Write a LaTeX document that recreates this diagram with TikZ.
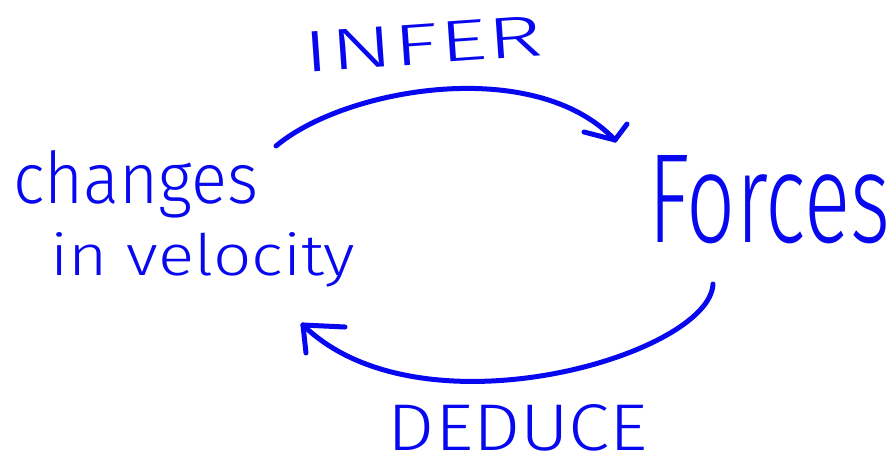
\documentclass[tikz,border=0pt]{standalone}
\usepackage{fontspec}
\setmainfont{Fira Sans}[UprightFont=* Light]
\usepackage{graphicx}
\definecolor{ink}{RGB}{8,8,240}
\begin{document}
\begin{tikzpicture}[x=0.5pt,y=-0.5pt, line cap=round, line join=round,
  pen/.style={draw=ink, line width=2.5pt},
  lbl/.style={inner sep=0pt, anchor=base west, text=ink}]
\useasboundingbox (0,0) rectangle (896,457);
% labels
\node[lbl, anchor=center, rotate=4] (infer) at (423,44) {\resizebox{120pt}{20pt}{INFER}};
\node[lbl, anchor=center] (deduce) at (518,428) {\resizebox{130pt}{23pt}{DEDUCE}};
\node[lbl] (forces) at (648,242) {\resizebox{121pt}{43.5pt}{Forces}};
\node[lbl] (changes) at (13,203) {\resizebox{122.5pt}{26.5pt}{changes}};
\node[lbl] (velocity) at (50,275) {\resizebox{152.5pt}{21.5pt}{in velocity}};
% top arrow
\coordinate (tA) at (276,146);
\coordinate (tB) at (615,140);
\draw[pen] (tA) .. controls (345,88) and (535,55) .. (tB);
\draw[pen] (tB) -- ++(-31,-8);
\draw[pen] (tB) -- ++(12,-16);
% bottom arrow
\coordinate (bA) at (713,284);
\coordinate (bB) at (303,325);
\draw[pen] (bA) .. controls (710,355) and (420,440) .. (bB);
\draw[pen] (bB) -- ++(42,2);
\draw[pen] (bB) -- ++(3,28);
\end{tikzpicture}
\end{document}
